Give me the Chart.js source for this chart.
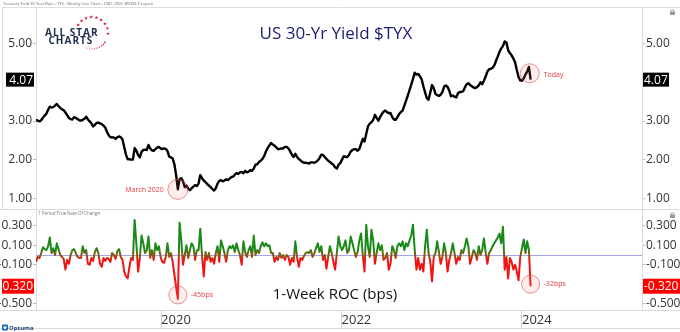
<!DOCTYPE html>
<html><head><meta charset="utf-8">
<script src="https://cdn.jsdelivr.net/npm/chart.js@4"></script>
<style>
html,body{margin:0;padding:0;background:#fff;}
#wrap{position:relative;width:680px;height:332px;overflow:hidden;background:#fff;}
canvas{position:absolute;left:0;}
#c1{top:0;} #c2{top:209px;}
</style></head><body>
<div id="wrap"><canvas id="c1" width="680" height="209"></canvas><canvas id="c2" width="680" height="123"></canvas></div>
<script>
// ---------------- DATA ----------------
const startDate = '2018-08-13';   // first weekly close
const yieldValues = [
3.03,3.01,2.99,3.02,3.09,3.14,3.19,3.29,3.37,3.35,
3.36,3.40,3.44,3.39,3.34,3.30,3.28,3.22,3.15,3.08,
3.05,3.04,3.10,3.08,3.05,3.02,3.01,3.03,3.06,3.11,
3.04,2.99,2.94,2.86,2.90,2.95,2.96,2.94,2.92,2.88,
2.83,2.72,2.63,2.58,2.58,2.57,2.54,2.58,2.60,2.58,
2.52,2.32,2.13,2.01,2.01,2.00,2.00,2.30,2.23,2.12,
2.06,2.20,2.25,2.26,2.25,2.38,2.29,2.24,2.23,2.27,
2.31,2.33,2.29,2.27,2.29,2.28,2.22,2.08,2.06,2.03,
1.88,1.60,1.23,1.49,1.52,1.44,1.29,1.33,1.25,1.21,
1.26,1.30,1.34,1.32,1.38,1.60,1.52,1.46,1.42,1.37,
1.33,1.29,1.24,1.20,1.26,1.38,1.45,1.47,1.44,1.46,
1.49,1.47,1.51,1.55,1.56,1.61,1.65,1.63,1.67,1.68,
1.65,1.71,1.67,1.69,1.73,1.71,1.77,1.87,1.88,1.94,
1.97,2.02,2.09,2.21,2.30,2.37,2.43,2.39,2.36,2.32,
2.27,2.28,2.29,2.29,2.33,2.33,2.29,2.22,2.13,2.07,
2.15,2.07,2.02,1.98,1.94,1.92,1.92,1.91,1.90,1.93,
1.93,1.92,1.94,1.98,2.04,2.13,2.12,2.07,2.02,1.97,
1.94,1.90,1.87,1.80,1.77,1.87,1.91,2.00,2.09,2.07,
2.07,2.12,2.21,2.25,2.27,2.27,2.23,2.28,2.41,2.54,
2.47,2.67,2.86,2.93,2.97,3.03,3.16,3.08,3.01,3.10,
3.18,3.24,3.27,3.23,3.20,3.21,3.10,3.04,3.03,3.10,
3.18,3.23,3.27,3.40,3.53,3.66,3.80,3.94,4.09,4.25,
4.20,4.22,4.16,4.08,3.90,3.74,3.59,3.55,3.74,3.93,
3.85,3.70,3.67,3.65,3.68,3.75,3.89,3.92,3.88,3.78,
3.64,3.66,3.63,3.61,3.72,3.75,3.75,3.77,3.87,3.95,
3.98,3.93,3.90,3.87,3.85,3.88,3.92,4.00,3.95,4.04,
4.15,4.28,4.34,4.35,4.38,4.44,4.56,4.67,4.79,4.88,
4.94,5.06,5.03,4.83,4.76,4.70,4.62,4.52,4.32,4.14,
4.05,4.04,4.10,4.20,4.28,4.40,4.07
];
const rocValues = [
-0.07,-0.02,-0.03,0.02,0.08,0.06,0.05,0.09,0.18,0.02,
0.07,0,0.12,0.06,0,-0.02,-0.04,-0.15,-0.05,-0.09,
0,0.05,0.06,0.02,-0.02,-0.03,-0.03,0.09,0.02,0.05,
-0.09,-0.1,-0.03,-0.06,0.03,0.07,0.02,-0.09,-0.12,-0.03,
-0.06,-0.03,-0.04,-0.07,0.02,0,-0.04,0.04,0.06,-0.02,
-0.05,-0.17,-0.22,-0.24,-0.12,-0.03,-0.05,0.36,0.12,-0.17,
-0.03,0.2,0.12,0.02,0.05,0.19,-0.03,0.05,-0.05,0.12,
0.05,0.09,-0.02,-0.07,-0.08,-0.02,0.12,-0.02,0.02,-0.07,
-0.2,-0.33,-0.45,0.33,0.15,-0.1,0,0.1,-0.03,0.05,
0.12,0.09,-0.05,0.05,0.05,0.27,0,-0.22,0.03,-0.05,
0.02,-0.07,-0.03,-0.09,0.02,0.09,-0.07,0.15,0.09,0.02,
-0.07,0.05,0.09,0.07,0.1,0.03,0.12,0.05,0,-0.1,
0.14,0.03,-0.02,0.05,0.09,-0.02,0.2,0,0.05,0.02,
0.09,0.13,0.09,0.12,0.09,0.1,0.02,0.02,-0.07,-0.02,
-0.05,0.02,-0.03,0,-0.05,0,-0.02,-0.1,-0.03,-0.07,
0.14,-0.02,-0.12,-0.03,-0.05,-0.01,0.02,0.03,0.02,0.05,
-0.02,0.02,0.07,0.12,0.03,0.09,-0.05,0,-0.14,-0.02,
0.09,0.02,-0.07,-0.15,0.02,0.19,0.09,0.05,0.09,0.15,
0.02,0.05,0.19,0.12,0.05,-0.02,0.03,0.15,0.22,0,
-0.17,0.31,0.09,-0.02,0.26,0.15,-0.09,0.02,0.12,0.05,
0.1,-0.05,-0.03,0.02,-0.15,-0.09,0.09,0.05,-0.03,0.09,
0.12,0.09,0.14,0.05,0.12,0.09,0.15,0.2,0.31,0.05,
-0.15,-0.03,-0.15,-0.09,-0.17,0.09,0.26,0.02,-0.07,-0.27,
-0.02,0.02,0.14,0.03,-0.09,-0.02,0.12,0.02,-0.17,-0.05,
0.02,0.12,0.02,-0.09,-0.02,-0.05,0.05,0.02,0.09,0.17,
0.09,-0.09,-0.02,0.05,0.02,-0.05,0.09,0,0.05,0.17,
0.03,-0.09,0.02,0.05,0.09,0.12,0.15,0.18,0.22,0.12,
0.29,-0.15,-0.02,-0.24,-0.03,-0.07,-0.15,-0.1,-0.17,-0.26,
-0.02,0.07,0.16,0.02,0.14,0.05,-0.32
];
const yieldTicks = [1, 2, 3, 5];
const rocTicks = [0.3, 0.1, -0.1, -0.5];
const yearTicks = [2020, 2022, 2024];
const yieldRange = [0.723, 5.924];
const rocRange = [-0.564, 0.4615];
const xEndYear = 2025.33;
const headerText = 'Treasury Yield 30 Year Rate - TYX - Weekly Line Chart - USD - ROC WEEKLY Layout';
const titleText = 'US 30-Yr Yield $TYX';
const rocTitle = '1-Week ROC (bps)';
const rocSubTitle = '1 Period True Rate Of Change';

// ---------------- helpers ----------------
function decYear(d){const y=d.getUTCFullYear();const a=Date.UTC(y,0,1),b=Date.UTC(y+1,0,1);return y+(d.getTime()-a)/(b-a);}
const t0 = Date.parse(startDate+'T00:00:00Z');
const dates = yieldValues.map((_,i)=>new Date(t0+i*7*864e5));
const xYears = dates.map(decYear);
const yieldData = yieldValues.map((v,i)=>({x:xYears[i],y:v}));
const rocData = rocValues.map((v,i)=>({x:xYears[i],y:v}));
const xMin = xYears[0];

Chart.defaults.font.family = '"Open Sans", "DejaVu Sans", sans-serif';
Chart.defaults.color = '#333';

function line(ctx,x1,y1,x2,y2){ctx.beginPath();ctx.moveTo(x1,y1);ctx.lineTo(x2,y2);ctx.stroke();}
function lock(ctx,x,y){
  ctx.save();ctx.fillStyle='#9a9a9a';ctx.strokeStyle='#9a9a9a';ctx.lineWidth=1;
  ctx.fillRect(x,y+2.5,5,3.5);
  ctx.beginPath();ctx.arc(x+2.5,y+2.5,1.7,Math.PI,0);ctx.stroke();
  ctx.restore();
}
function star(ctx,cx,cy,ro,ri){
  ctx.beginPath();
  for(let i=0;i<10;i++){const r=i%2?ri:ro;const a=-Math.PI/2+i*Math.PI/5;ctx.lineTo(cx+r*Math.cos(a),cy+r*Math.sin(a));}
  ctx.closePath();ctx.fill();
}
function circleMark(ctx,x,y,r){
  ctx.save();
  ctx.fillStyle='rgba(255,120,120,0.13)';ctx.strokeStyle='rgba(226,70,70,0.6)';ctx.lineWidth=1;
  ctx.beginPath();ctx.arc(x,y,r,0,Math.PI*2);ctx.fill();ctx.stroke();
  ctx.restore();
}
function redText(ctx,txt,x,y,align){
  ctx.save();ctx.fillStyle='#e8383d';ctx.font='7px "Open Sans"';ctx.textAlign=align;ctx.textBaseline='middle';
  ctx.fillText(txt,x,y);ctx.restore();
}

function yAxis(pos, range, ticks, digits, width){
  return {
    position: pos, min: range[0], max: range[1],
    afterFit: s => { s.width = width; s.paddingTop = 0; s.paddingBottom = 0; },
    afterBuildTicks: s => { s.ticks = ticks.map(v => ({value: v})); },
    ticks: { font: {size: 12}, color: '#333', padding: 1, callback: v => Number(v).toFixed(digits) },
    grid: { drawOnChartArea: false, drawTicks: true, tickLength: 3, color: '#bdbdbd' },
    border: { display: true, color: '#dcdcdc' }
  };
}

// ---------------- top chart decorations ----------------
const topDecor = {
  id: 'topDecor',
  afterDraw(chart){
    const ctx = chart.ctx, a = chart.chartArea, ys = chart.scales.y, xs = chart.scales.x;
    ctx.save();
    ctx.strokeStyle = '#dedede'; ctx.lineWidth = 1;
    line(ctx, 2.5, 7.5, 680, 7.5);
    line(ctx, 2.5, 7.5, 2.5, 209);
    ctx.fillStyle = '#666'; ctx.font = '4px "Open Sans"'; ctx.textAlign = 'left'; ctx.textBaseline = 'middle';
    ctx.fillText(headerText, 3, 4);
    ctx.fillStyle = '#1c1c74'; ctx.font = '17px "Open Sans"'; ctx.textAlign = 'center'; ctx.textBaseline = 'middle';
    ctx.fillText(titleText, 336, 34);
    // logo
    ctx.fillStyle = '#1e2b4f'; ctx.font = 'bold 10px "Open Sans"'; ctx.textAlign = 'left'; ctx.textBaseline = 'alphabetic';
    ctx.letterSpacing = '1px';
    ctx.fillText('ALL STAR', 45, 35.5);
    ctx.fillText('CHARTS', 48.5, 44);
    ctx.letterSpacing = '0px';
    const cx = 92, cy = 33, r = 16;
    ctx.fillStyle = '#d8203a';
    for (let d = -150; d <= 20; d += 19) { const rad = d*Math.PI/180; star(ctx, cx + r*Math.cos(rad), cy + r*Math.sin(rad), 1.9, 0.8); }
    for (let d = 36; d <= 130; d += 9) {
      const rad = d*Math.PI/180; const k = (d-36)/94;
      ctx.fillStyle = 'rgba(216,32,58,' + (0.95 - 0.6*k) + ')';
      ctx.beginPath(); ctx.arc(cx + r*Math.cos(rad), cy + r*Math.sin(rad), 0.9 - 0.35*k, 0, Math.PI*2); ctx.fill();
    }
    // last value boxes
    const last = yieldValues[yieldValues.length-1];
    const yl = ys.getPixelForValue(last);
    ctx.fillStyle = '#000';
    ctx.fillRect(6, yl-7, 28, 14);
    ctx.fillRect(643, yl-7, 26, 14);
    ctx.fillStyle = '#fff'; ctx.font = '12px "Open Sans"'; ctx.textBaseline = 'middle';
    ctx.textAlign = 'right'; ctx.fillText(last.toFixed(2), 33, yl+0.5);
    ctx.textAlign = 'left'; ctx.fillText(last.toFixed(2), 644, yl+0.5);
    // March 2020 annotation (lowest weekly close in March 2020)
    let mi = -1;
    dates.forEach((d,i)=>{ if(d.getUTCFullYear()===2020 && d.getUTCMonth()===2 && (mi<0 || yieldValues[i]<yieldValues[mi])) mi=i; });
    const mx = xs.getPixelForValue(xYears[mi]), my = ys.getPixelForValue(yieldValues[mi]);
    circleMark(ctx, mx, my, 10);
    redText(ctx, 'March 2020', mx-14, my+0.5, 'right');
    // Today annotation
    const n = yieldValues.length;
    const tx = (xs.getPixelForValue(xYears[n-1]) + xs.getPixelForValue(xYears[n-2]))/2;
    const ty = (ys.getPixelForValue(yieldValues[n-1]) + ys.getPixelForValue(yieldValues[n-2]))/2;
    circleMark(ctx, tx, ty, 9.5);
    redText(ctx, 'Today', tx+14, ty+1.5, 'left');
    lock(ctx, 670, 9);
    ctx.restore();
  }
};

// ---------------- bottom chart decorations ----------------
const botDecor = {
  id: 'botDecor',
  beforeDatasetsDraw(chart){
    const ctx = chart.ctx, a = chart.chartArea, ys = chart.scales.y;
    const y0 = Math.round(ys.getPixelForValue(0)) + 0.5;
    ctx.save(); ctx.strokeStyle = '#a4a4e8'; ctx.lineWidth = 1;
    line(ctx, a.left, y0, a.right, y0);
    ctx.restore();
  },
  afterDraw(chart){
    const ctx = chart.ctx, a = chart.chartArea, ys = chart.scales.y, xs = chart.scales.x;
    ctx.save();
    ctx.strokeStyle = '#dcdcdc'; ctx.lineWidth = 1;
    line(ctx, 0, 0.5, 680, 0.5);
    line(ctx, 0, a.bottom + 0.5, 680, a.bottom + 0.5);
    line(ctx, 0, 119.5, 680, 119.5);
    ctx.fillStyle = '#777'; ctx.font = '4.5px "Open Sans"'; ctx.textAlign = 'left'; ctx.textBaseline = 'middle';
    ctx.fillText(rocSubTitle, 38, 5);
    ctx.fillStyle = '#111'; ctx.font = '15px "Open Sans"'; ctx.textAlign = 'center';
    ctx.fillText(rocTitle, 335, 86);
    // last value boxes
    const n = rocValues.length, last = rocValues[n-1];
    const yl = ys.getPixelForValue(last);
    ctx.fillStyle = '#ff0000';
    ctx.fillRect(2, yl-7.5, 32, 15);
    ctx.fillRect(643, yl-7.5, 37, 15);
    ctx.fillStyle = '#fff'; ctx.font = '12px "Open Sans"'; ctx.textBaseline = 'middle';
    ctx.textAlign = 'right'; ctx.fillText(last.toFixed(3), 33, yl+0.5);
    ctx.textAlign = 'left'; ctx.fillText(last.toFixed(3), 644, yl+0.5);
    // largest weekly drop
    let mi = 0; rocValues.forEach((v,i)=>{ if(v<rocValues[mi]) mi=i; });
    const mx = xs.getPixelForValue(xYears[mi]), my = ys.getPixelForValue(rocValues[mi]);
    circleMark(ctx, mx, my-4, 9);
    redText(ctx, Math.round(rocValues[mi]*100) + 'bps', mx+13, my-4, 'left');
    // last week
    const lx = xs.getPixelForValue(xYears[n-1]);
    circleMark(ctx, lx, yl-2, 9);
    redText(ctx, Math.round(last*100) + 'bps', lx+13, yl-2, 'left');
    // Optuma logo
    ctx.fillStyle = '#1565c0';
    ctx.beginPath(); ctx.roundRect ? ctx.roundRect(2, 115.5, 6, 6, 1.2) : ctx.rect(2,115.5,6,6); ctx.fill();
    ctx.fillStyle = '#fff'; ctx.beginPath(); ctx.arc(5, 118.5, 1.6, 0, Math.PI*2); ctx.fill();
    ctx.fillStyle = '#1d3e7a'; ctx.font = 'bold 6px "Open Sans"'; ctx.textAlign = 'left'; ctx.textBaseline = 'middle';
    ctx.fillText('Optuma', 9, 118.8);
    lock(ctx, 670, 3);
    ctx.restore();
  }
};

// ---------------- charts ----------------
new Chart(document.getElementById('c1'), {
  type: 'line',
  data: { datasets: [{ data: yieldData, borderColor: '#000', borderWidth: 2.4, pointRadius: 0, tension: 0, borderJoinStyle: 'round' }] },
  options: {
    responsive: false, animation: false, devicePixelRatio: 1,
    layout: { padding: { top: 8, bottom: 0, left: 0, right: 0 } },
    plugins: { legend: { display: false }, tooltip: { enabled: false } },
    scales: {
      x: { type: 'linear', min: xMin, max: xEndYear, display: false },
      y: yAxis('left', yieldRange, yieldTicks, 2, 36),
      y2: yAxis('right', yieldRange, yieldTicks, 2, 38)
    }
  },
  plugins: [topDecor]
});

new Chart(document.getElementById('c2'), {
  type: 'line',
  data: { datasets: [{
    data: rocData, borderWidth: 2, pointRadius: 0, tension: 0, borderJoinStyle: 'round',
    borderColor: (c) => {
      const ch = c.chart, a = ch.chartArea;
      if (!a) return '#c00';
      const y0 = ch.scales.y.getPixelForValue(0);
      const f = p => Math.min(1, Math.max(0, (p - a.top) / (a.bottom - a.top)));
      const g = ch.ctx.createLinearGradient(0, a.top, 0, a.bottom);
      g.addColorStop(0, '#188a18');
      g.addColorStop(f(y0 - 6), '#188a18');
      g.addColorStop(f(y0), '#8a5a12');
      g.addColorStop(f(y0 + 5), '#f21212');
      g.addColorStop(1, '#f21212');
      return g;
    }
  }] },
  options: {
    responsive: false, animation: false, devicePixelRatio: 1,
    layout: { padding: { top: 1, bottom: 4, left: 0, right: 0 } },
    plugins: { legend: { display: false }, tooltip: { enabled: false } },
    scales: {
      x: {
        type: 'linear', min: xMin, max: xEndYear, position: 'bottom',
        afterFit: s => { s.height = 18; s.paddingLeft = 0; s.paddingRight = 0; },
        afterBuildTicks: s => { s.ticks = yearTicks.map(v => ({value: v})); },
        ticks: { align: 'start', padding: -16, font: {size: 13}, color: '#333', maxRotation: 0, autoSkip: false, callback: v => String(v) },
        grid: { drawOnChartArea: false, drawTicks: true, tickLength: 18, color: '#d8d8d8' },
        border: { display: true, color: '#dcdcdc' }
      },
      y: yAxis('left', rocRange, rocTicks, 3, 36),
      y2: yAxis('right', rocRange, rocTicks, 3, 38)
    }
  },
  plugins: [botDecor]
});
</script>
</body></html>
